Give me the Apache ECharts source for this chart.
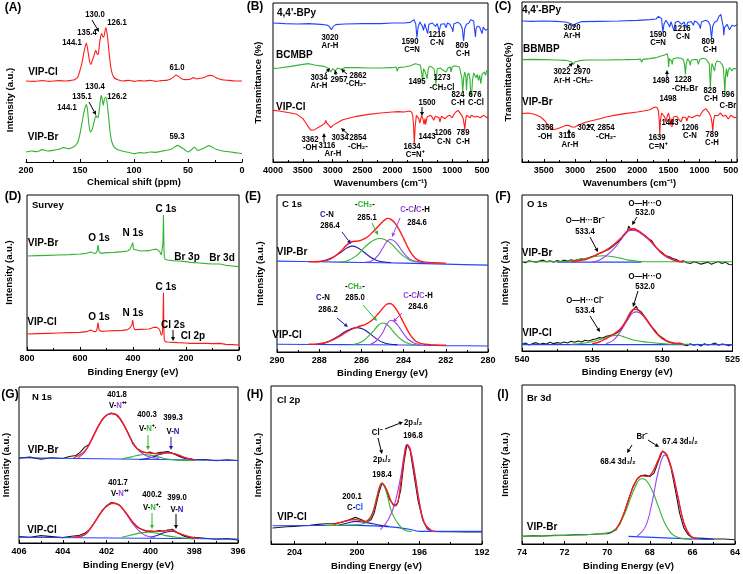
<!DOCTYPE html>
<html><head><meta charset="utf-8">
<script src="https://cdn.jsdelivr.net/npm/echarts@6/dist/echarts.min.js"></script>
<style>html,body{margin:0;padding:0;background:#fff}#c{width:743px;height:574px}</style>
</head><body><div id="c"></div>
<script>
// ---------------- DATA (x value, intensity in a.u.) ----------------
// (A) 13C NMR
const nmrCl = [[200,243],[192,242],[185,244],[178,242],[170,244],[163,243],[158,245],[155,247],[152,255],[150,275],[148,300],[146,335],[144.1,357],[142.5,330],[141,300],[140,293],[138.5,305],[137,320],[135.4,335],[134,323],[133,325],[131.5,365],[130,385],[129,377],[128,375],[126.1,403],[124.5,375],[123,325],[121.5,285],[120,263],[118,252],[115,247],[110,243],[105,245],[100,242],[95,244],[90,243],[85,245],[80,242],[75,244],[70,245],[66,249],[63,256],[61,261],[59,257],[56,250],[52,247],[48,248],[45,253],[42,249],[39,251],[36,253],[33,257],[30,260],[27,259],[24,253],[21,249],[17,246],[12,245],[7,243],[0,243]];
const nmrBr = [[200,30],[195,33],[190,31],[185,37],[180,33],[175,35],[170,38],[165,43],[160,40],[157,44],[155,47],[152,60],[150,85],[148,120],[146,155],[144.1,172],[143,155],[142,120],[140.5,90],[139,95],[137.5,113],[135.1,140],[134,133],[133,135],[131.5,175],[130.4,200],[129.5,190],[128.5,170],[127.5,187],[126.2,195],[125,180],[123.5,135],[122,85],[120.5,60],[118,43],[115,37],[110,32],[105,29],[100,25],[95,28],[90,27],[85,30],[80,29],[75,32],[70,35],[65,39],[62,46],[59.3,50],[57,45],[53,37],[50,30],[47,36],[44,45],[41,35],[38,38],[35,42],[31,49],[28,45],[24,38],[18,33],[13,31],[8,29],[4,27],[0,25]];
// (B) FTIR
const irB_bpy = [[4000,417],[3800,415],[3600,414],[3400,415],[3200,413],[3100,411],[3060,407],[3020,397],[2990,407],[2950,412],[2800,414],[2500,415],[2200,415],[2000,417],[1800,417],[1700,419],[1640,427],[1610,415],[1590,373],[1570,405],[1540,420],[1500,407],[1480,395],[1460,415],[1430,413],[1410,385],[1390,413],[1330,417],[1280,407],[1250,415],[1216,393],[1190,413],[1130,415],[1100,403],[1080,417],[1040,413],[1000,400],[990,390],[970,415],[900,419],[860,413],[830,400],[809,363],[790,400],[760,413],[720,417],[690,427],[670,433],[640,423],[620,390],[610,375],[600,400],[580,407],[560,413],[540,405],[520,395],[500,385],[480,405],[460,403],[440,395],[420,400],[400,400]];
const irB_bcmbp = [[4000,280],[3900,282],[3700,287],[3500,293],[3400,295],[3300,291],[3150,287],[3080,282],[3034,270],[3000,280],[2957,273],[2920,282],[2862,278],[2800,283],[2600,283],[2400,282],[2200,282],[2000,283],[1940,285],[1920,273],[1900,283],[1800,285],[1700,289],[1620,295],[1580,293],[1560,297],[1530,290],[1510,285],[1495,245],[1480,280],[1460,273],[1440,263],[1420,250],[1400,280],[1380,287],[1340,285],[1300,277],[1273,235],[1250,280],[1200,282],[1150,275],[1120,280],[1100,270],[1070,282],[1030,285],[1020,270],[1000,285],[960,289],[920,287],[880,285],[850,280],[835,250],[824,210],[805,255],[790,270],[770,253],[760,215],[745,260],[720,267],[700,245],[690,200],[680,207],[676,195],[660,245],[640,267],[620,260],[600,253],[580,263],[560,245],[540,260],[520,235],[500,263],[480,257],[460,270],[440,260],[420,275],[400,273]];
const irB_vipcl = [[4000,155],[3900,153],[3800,150],[3700,147],[3600,143],[3500,130],[3450,117],[3400,103],[3362,95],[3300,97],[3250,103],[3180,110],[3130,117],[3116,125],[3100,117],[3060,110],[3034,103],[3000,109],[2950,115],[2900,120],[2854,125],[2800,128],[2700,133],[2600,137],[2500,140],[2400,143],[2200,147],[2000,150],[1900,151],[1800,150],[1720,153],[1680,150],[1660,140],[1645,105],[1634,55],[1620,105],[1600,140],[1575,137],[1560,130],[1540,117],[1525,130],[1510,140],[1500,143],[1490,130],[1470,113],[1455,130],[1443,113],[1420,135],[1400,137],[1360,140],[1330,133],[1310,125],[1280,137],[1250,143],[1220,133],[1206,120],[1180,137],[1150,140],[1120,130],[1100,125],[1080,137],[1040,140],[1000,133],[970,143],[940,150],[900,155],[870,150],[840,140],[815,130],[800,113],[789,97],[775,125],[760,140],[730,135],[700,133],[680,140],[650,145],[620,135],[600,129],[580,137],[560,140],[530,133],[500,129],[470,140],[440,137],[420,133],[400,135]];
// (C) FTIR
const irC_bpy = [[3850,423],[3700,422],[3500,423],[3300,422],[3150,420],[3060,415],[3020,405],[2990,415],[2900,421],[2600,422],[2300,423],[2000,425],[1800,427],[1700,429],[1660,437],[1630,440],[1610,430],[1590,390],[1570,415],[1540,425],[1500,413],[1480,405],[1460,421],[1430,419],[1410,393],[1390,419],[1340,422],[1290,413],[1250,420],[1216,403],[1190,419],[1130,421],[1100,410],[1080,423],[1040,419],[1000,409],[990,400],[970,420],[900,425],[860,421],[830,410],[809,370],[790,407],[760,419],[720,423],[690,437],[660,443],[640,440],[620,405],[612,380],[600,403],[580,409],[560,413],[540,407],[520,397],[500,393],[480,410],[460,413],[440,407],[420,411],[400,413]];
const irC_bbmbp = [[3850,307],[3700,308],[3500,307],[3300,306],[3150,305],[3060,301],[3022,293],[3000,300],[2970,299],[2930,304],[2800,306],[2500,306],[2200,307],[2000,308],[1950,309],[1930,299],[1910,308],[1800,310],[1700,313],[1620,318],[1560,321],[1520,325],[1505,310],[1498,285],[1485,310],[1470,315],[1450,303],[1440,293],[1425,310],[1400,315],[1350,313],[1300,311],[1260,307],[1240,290],[1228,263],[1215,295],[1190,310],[1160,300],[1150,290],[1135,305],[1100,307],[1070,305],[1040,307],[1020,293],[1000,307],[950,311],[900,309],[870,307],[845,295],[828,223],[812,280],[800,295],[775,290],[760,273],[745,295],[720,303],[700,305],[670,300],[640,293],[620,285],[605,245],[596,203],[585,255],[570,280],[555,255],[540,275],[520,283],[500,277],[480,273],[460,280],[440,277],[400,280]];
const irC_vipbr = [[3850,145],[3750,147],[3650,143],[3550,135],[3480,123],[3420,107],[3358,97],[3300,99],[3250,102],[3180,107],[3140,110],[3116,115],[3090,109],[3050,105],[3027,99],[3000,105],[2950,110],[2900,114],[2854,118],[2800,121],[2700,125],[2600,130],[2500,135],[2400,139],[2200,145],[2000,150],[1900,153],[1800,157],[1720,165],[1680,163],[1660,153],[1648,125],[1639,83],[1628,125],[1610,147],[1580,143],[1560,135],[1540,120],[1520,137],[1498,147],[1485,135],[1470,110],[1455,130],[1443,105],[1420,135],[1400,140],[1370,137],[1330,127],[1300,120],[1270,135],[1240,140],[1220,133],[1206,123],[1180,137],[1150,140],[1120,133],[1100,127],[1080,137],[1040,140],[1000,137],[970,147],[940,155],[900,160],[870,155],[840,145],[815,133],[800,115],[789,93],[775,125],[760,139],[730,137],[700,140],[670,147],[650,145],[620,137],[600,133],[580,140],[560,135],[540,129],[520,133],[500,140],[470,135],[440,133],[420,137],[400,135]];
// (D) XPS survey
const survBr = [[800,282],[760,283],[720,284],[680,285],[640,286],[600,288],[575,290],[560,294],[550,291],[540,290],[535,298],[532,315],[528,294],[520,290],[500,292],[470,293],[440,295],[420,297],[410,304],[404,310],[401,322],[398,302],[394,296],[370,297],[340,298],[320,302],[310,302],[300,296],[293,285],[289,290],[287,320],[285,405],[283.5,320],[282,280],[279,272],[270,270],[250,268],[230,267],[200,265],[185,263],[182,268],[178,263],[150,261],[120,259],[100,258],[72,258],[69,262],[66,257],[50,254],[25,252],[0,250]];
const survCl = [[800,48],[760,49],[720,50],[680,51],[640,52],[600,53],[575,55],[560,60],[550,56],[540,55],[535,65],[532,82],[528,60],[520,56],[500,57],[470,58],[440,59],[420,61],[410,68],[404,75],[401,90],[398,70],[394,61],[370,62],[340,63],[320,68],[310,68],[300,62],[293,44],[289,52],[287,80],[285,172],[283.5,60],[282,32],[279,25],[270,24],[250,23],[230,22],[200,21],[185,20],[182,25],[178,20],[150,20],[120,20],[100,19],[72,20],[69,24],[66,19],[50,17],[25,16],[0,15]];
// (E) C 1s
const c1sBr_env = [[288.5,270],[288,271],[287.6,275],[287.3,285],[287,300],[286.7,320],[286.45,330],[286.2,332],[286,335],[285.7,345],[285.4,363],[285.1,383],[284.9,395],[284.75,400],[284.6,397],[284.4,385],[284.2,365],[284,340],[283.8,313],[283.6,292],[283.4,278],[283.2,272],[283,269],[282.5,267],[282,266]];
const c1sBr_cn = [[288.2,270],[287.8,273],[287.4,282],[287,297],[286.7,311],[286.45,317],[286.2,313],[285.9,300],[285.6,285],[285.3,275],[285,270],[284.6,268]];
const c1sBr_ch2 = [[287,269],[286.6,275],[286.2,290],[285.9,310],[285.6,327],[285.4,335],[285.15,340],[284.9,337],[284.6,325],[284.3,305],[284,287],[283.7,275],[283.4,270],[283,268]];
const c1sBr_cc = [[285.8,269],[285.5,273],[285.2,290],[285,310],[284.8,330],[284.65,337],[284.5,335],[284.3,323],[284.1,305],[283.9,289],[283.7,278],[283.4,271],[283,268]];
const c1sBr_base = [[290,272],[288,270],[286,268],[284,266],[282,263],[280,260]];
const c1sCl_env = [[288.5,23],[288,25],[287.6,30],[287.3,38],[287,48],[286.7,60],[286.4,70],[286.1,77],[285.8,83],[285.5,95],[285.2,115],[285,130],[284.8,143],[284.65,145],[284.5,140],[284.3,123],[284.1,100],[283.9,75],[283.7,53],[283.5,37],[283.3,28],[283,23],[282.5,21],[282,20]];
const c1sCl_cn = [[287.9,23],[287.5,33],[287.1,47],[286.8,60],[286.5,69],[286.2,73],[285.9,68],[285.6,55],[285.3,40],[285,29],[284.7,24],[284.3,22]];
const c1sCl_ch2 = [[286.4,22],[286,30],[285.7,45],[285.4,65],[285.2,80],[285,87],[284.8,83],[284.6,70],[284.3,48],[284,32],[283.7,24],[283.4,22]];
const c1sCl_cc = [[285.6,22],[285.3,33],[285,57],[284.8,83],[284.6,95],[284.4,89],[284.2,73],[284,55],[283.8,39],[283.5,27],[283.2,22]];
const c1sCl_base = [[290,23],[287,22],[284,21],[282,19],[280,18]];
// (F) O 1s
const o1sBr_raw = [[540,267],[539.75,264],[539.5,270],[539.25,268],[539,266],[538.75,269],[538.5,272],[538.25,267],[538,270],[537.75,266],[537.5,271],[537.25,268],[537,272],[536.75,269],[536.5,273],[536.25,270],[536,274],[535.75,276],[535.5,273],[535.25,279],[535,283],[534.75,286],[534.5,292],[534.25,296],[534,301],[533.75,306],[533.5,314],[533.25,324],[533,332],[532.75,346],[532.5,357],[532.4,374],[532.25,364],[532,367],[531.75,360],[531.5,352],[531.25,345],[531,336],[530.75,330],[530.5,312],[530.25,302],[530,294],[529.75,285],[529.5,282],[529.25,277],[529,274],[528.75,267],[528.5,270],[528.25,264],[528,262],[527.75,267],[527.5,264],[527.25,260],[527,263],[526.75,266],[526.5,260],[526.25,264],[526,268],[525.75,262],[525.5,266],[525.25,259],[525,258]];
const o1sBr_env = [[536.5,267],[535.5,274],[535,282],[534.5,292],[534,302],[533.5,317],[533,336],[532.7,350],[532.4,363],[532.1,366],[531.8,362],[531.5,354],[531,337],[530.5,314],[530,292],[529.5,279],[529,270],[528.5,267]];
const o1sBr_oho = [[535,267],[534.5,272],[534,285],[533.5,304],[533,330],[532.6,352],[532.3,361],[532,361],[531.6,354],[531,334],[530.5,312],[530,290],[529.5,277],[529,269],[528.5,266]];
const o1sBr_ohx = [[540,267],[537.5,267],[536.5,270],[535.5,277],[534.8,283],[534.2,285],[533.6,283],[533,278],[532.4,272],[531.6,268],[530.5,267],[525,267]];
const o1sBr_base = [[537.5,266],[531.5,266]];
const o1sCl_raw = [[540,20],[539.75,24],[539.5,18],[539.25,22],[539,25],[538.75,20],[538.5,23],[538.25,21],[538,26],[537.75,22],[537.5,25],[537.25,23],[537,27],[536.75,24],[536.5,29],[536.25,26],[536,30],[535.75,27],[535.5,32],[535.25,30],[535,34],[534.75,36],[534.5,40],[534.25,39],[534,44],[533.75,46],[533.5,49],[533.25,54],[533,62],[532.75,77],[532.5,92],[532.25,114],[532,127],[531.85,134],[531.75,124],[531.5,117],[531.25,102],[531,87],[530.75,72],[530.5,60],[530.25,47],[530,40],[529.75,32],[529.5,27],[529.25,24],[529,21],[528.75,24],[528.5,19],[528.25,16],[528,22],[527.75,17],[527.5,20],[527.25,15],[527,22],[526.75,18],[526.5,20],[526.25,24],[526,17],[525.75,21],[525.5,19],[525.25,16],[525,20]];
const o1sCl_env = [[535,22],[534.5,27],[534,37],[533.5,50],[533,66],[532.6,90],[532.3,114],[532,125],[531.8,124],[531.5,114],[531,87],[530.5,57],[530,37],[529.5,27],[529,23],[528.5,21]];
const o1sCl_oho = [[534,22],[533.5,32],[533,57],[532.5,92],[532.1,114],[531.8,117],[531.4,107],[531,84],[530.5,57],[530,37],[529.5,26],[529,22]];
const o1sCl_ohx = [[536.5,20],[535.5,24],[534.8,30],[534.2,37],[533.6,45],[533.2,47],[532.7,42],[532,32],[531,26],[530,22],[529,20],[528,20]];
const o1sCl_base = [[540,19],[525,19]];
// (G) N 1s
const n1sBr_raw = [[406,254],[405.5,257],[405,251],[404.5,255],[404,253],[403.7,259],[403.4,262],[403.2,272],[403,287],[402.8,295],[402.6,322],[402.4,347],[402.2,369],[402,383],[401.8,389],[401.6,386],[401.4,372],[401.2,352],[401,327],[400.8,297],[400.6,282],[400.4,273],[400.2,270],[400,272],[399.8,267],[399.6,271],[399.4,272],[399.2,274],[399,269],[398.8,263],[398.6,257],[398.4,252],[398.2,253],[398,249],[397.5,250],[397,246],[396.5,249],[396,247]];
const n1sBr_env = [[403.5,255],[403,275],[402.7,307],[402.4,347],[402.1,377],[401.8,387],[401.5,382],[401.2,352],[400.9,312],[400.6,282],[400.3,272],[400,269],[399.6,267],[399.2,270],[398.8,265],[398.4,255],[398,249]];
const n1sBr_npp = [[403.3,255],[403,272],[402.7,307],[402.4,347],[402.1,377],[401.8,387],[401.5,382],[401.2,352],[400.9,312],[400.6,282],[400.3,265],[400,257],[399.6,253]];
const n1sBr_np = [[401.3,252],[400.9,257],[400.6,262],[400.3,265],[400,263],[399.6,257],[399.2,251],[398.5,247],[398,247]];
const n1sBr_n = [[400.5,249],[400,255],[399.6,265],[399.2,270],[398.8,265],[398.4,255],[398,249]];
const n1sBr_base = [[406,255],[396,247]];
const n1sCl_raw = [[406,19],[405.5,17],[405,22],[404.5,19],[404,16],[403.6,20],[403.3,22],[403,29],[402.8,39],[402.6,57],[402.4,77],[402.2,97],[402,112],[401.8,121],[401.6,119],[401.4,113],[401.2,97],[401,79],[400.8,62],[400.6,47],[400.4,41],[400.2,35],[400,36],[399.8,34],[399.6,37],[399.4,35],[399.2,39],[399,41],[398.8,32],[398.6,25],[398.4,19],[398.2,16],[398,17],[397.5,14],[397,11],[396.5,13],[396,9]];
const n1sCl_env = [[403.5,17],[403,25],[402.7,47],[402.4,77],[402.1,104],[401.7,119],[401.4,112],[401.1,89],[400.8,62],[400.5,44],[400.2,37],[399.9,35],[399.5,35],[399.1,39],[398.8,32],[398.5,24],[398.1,17],[397.8,14]];
const n1sCl_npp = [[403.5,17],[403,25],[402.7,47],[402.4,77],[402.1,104],[401.7,119],[401.4,112],[401.1,87],[400.8,57],[400.5,35],[400.2,22],[399.8,17]];
const n1sCl_np = [[401.3,17],[400.8,25],[400.4,31],[400.1,32],[399.7,29],[399.3,22],[398.8,17],[398,12]];
const n1sCl_n = [[400,17],[399.6,25],[399.3,32],[399,35],[398.7,29],[398.4,21],[398,15]];
const n1sCl_base = [[406,17],[396,12]];
// (H) Cl 2p
const cl2p_raw = [[205.4,48],[204.5,52],[204,53],[203.5,55],[203,56],[202.5,59],[202,61],[201.5,61],[201,65],[200.5,73],[200.1,80],[199.7,73],[199.4,65],[199.1,73],[198.9,93],[198.6,153],[198.4,183],[198.2,173],[197.9,133],[197.6,115],[197.4,123],[197.2,163],[197,243],[196.8,300],[196.6,283],[196.4,223],[196.1,133],[195.8,73],[195.5,45],[195.2,38],[194.5,37],[194,37],[193,36],[192,36]];
const cl2p_env = [[201.5,58],[200.8,68],[200.1,73],[199.5,68],[199.1,83],[198.8,123],[198.4,183],[198.1,163],[197.7,118],[197.5,115],[197.2,183],[197,253],[196.8,298],[196.6,283],[196.3,208],[196,123],[195.7,65],[195.3,43],[195,38]];
const cl2p_p12 = [[202,56],[200,58],[199.3,68],[199,93],[198.7,148],[198.4,183],[198.1,153],[197.8,98],[197.4,63],[197,43],[196.5,38]];
const cl2p_p32 = [[198.5,43],[198,73],[197.6,118],[197.2,203],[197,263],[196.8,300],[196.6,288],[196.3,213],[196,123],[195.7,63],[195.3,41],[195,37]];
const cl2p_ccl = [[201.2,56],[200.6,63],[200.1,68],[199.5,65],[199,61],[198.5,56],[198,53]];
const cl2p_base = [[205.4,55],[200,56],[197.5,50],[196.5,43],[196,38],[192,38]];
// (I) Br 3d
const br3d_raw = [[74,23],[73.5,25],[73,24],[72.5,26],[72,26],[71.5,28],[71,28],[70.5,30],[70,31],[69.8,35],[69.6,43],[69.4,61],[69.2,93],[69,133],[68.8,171],[68.6,195],[68.4,206],[68.2,207],[68,203],[67.8,213],[67.6,248],[67.4,280],[67.2,268],[67,228],[66.8,163],[66.6,93],[66.4,48],[66.2,28],[66,19],[65.5,17],[65,15],[64.5,15],[64,13]];
const br3d_env = [[69.6,41],[69.3,78],[69,133],[68.7,183],[68.4,205],[68.1,203],[67.9,213],[67.6,253],[67.4,278],[67.2,268],[67,231],[66.7,148],[66.4,63],[66.1,25],[65.8,16]];
const br3d_d32 = [[74,23],[72,26],[71,28],[70.3,31],[69.8,37],[69.5,53],[69.2,88],[68.9,138],[68.6,183],[68.4,196],[68.2,193],[67.9,163],[67.6,113],[67.3,63],[67,33],[66.7,20],[66.3,15],[66,13]];
const br3d_d52 = [[68.6,23],[68.2,53],[67.9,123],[67.6,218],[67.3,268],[67,233],[66.7,148],[66.4,63],[66.1,25],[65.8,15]];
const br3d_base = [[69,23],[66,15],[65,14]];

// axis ranges / ticks: [min, max, tick step]
const axA = [0, 200, 50], axB = [400, 4000, 500], axC = [400, 3850, 500];
const axD = [0, 800, 200], axE = [280, 290, 2], axF = [525, 540, 5];
const axG = [396, 406, 2], axH = [192, 205.5, 4], axI = [64, 74, 2];

// ---------------- STYLE / LAYOUT ----------------
const FONT = '"Liberation Sans", Arial, sans-serif';
const RED = '#ff1a1a', GREEN = '#33b333', BLUE = '#2244ff', NAVY = '#1c1caa', PURPLE = '#a040f0', BLACK = '#1a1a1a';

const panels = [
  {ax: axA, box: [26, 3, 216, 159], ymax: 477, frame: false, xname: 'Chemical shift (ppm)', xgap: 15, yname: '', ygap: 0},
  {ax: axB, box: [273, 3, 215, 159], ymax: 477, frame: true, xname: 'Wavenumbers (cm⁻¹)', xgap: 16, yname: 'Transmittance (%)', ygap: 10},
  {ax: axC, box: [522, 2, 215, 160], ymax: 480, frame: true, xname: 'Wavenumbers (cm⁻¹)', xgap: 16, yname: 'Transmittance(%)', ygap: 9},
  {ax: axD, box: [27, 195, 212, 155], ymax: 465, frame: true, xname: 'Binding Energy (eV)', xgap: 17, yname: 'Intensity (a.u.)', ygap: 13},
  {ax: axE, box: [277, 195, 211, 157], ymax: 470, frame: true, xname: 'Binding Energy (eV)', xgap: 16, yname: 'Intensity (a.u.)', ygap: 12},
  {ax: axF, box: [522, 195, 211, 156], ymax: 467, frame: true, xname: 'Binding Energy (eV)', xgap: 16, yname: 'Intensity (a.u.)', ygap: 12},
  {ax: axG, box: [19, 387, 219, 156], ymax: 467, frame: true, xname: 'Binding Energy (eV)', xgap: 17, yname: 'Intensity (a.u.)', ygap: 8},
  {ax: axH, box: [271, 386, 211, 158], ymax: 475, frame: true, xname: 'Binding Energy (eV)', xgap: 17, yname: 'Intensity (a.u.)', ygap: 8},
  {ax: axI, box: [522, 385, 213, 159], ymax: 478, frame: true, xname: 'Binding Energy (eV)', xgap: 17, yname: 'Intensity (a.u.)', ygap: 12}
];

const grid = [], xAxis = [], yAxis = [];
panels.forEach((p, i) => {
  const [mn, mx, step] = p.ax;
  grid.push({left: p.box[0], top: p.box[1], width: p.box[2], height: p.box[3], show: p.frame, borderColor: '#000', borderWidth: 1, backgroundColor: 'transparent'});
  const aligned = (mn % step === 0);
  xAxis.push({
    gridIndex: i, type: 'value', inverse: true, min: mn, max: mx,
    interval: aligned ? step : undefined, splitNumber: aligned ? undefined : 7,
    axisLine: {show: true, onZero: false, lineStyle: {color: '#000', width: 1}},
    axisTick: {show: true, inside: true, length: 3, lineStyle: {color: '#000'}},
    minorTick: {show: true, splitNumber: 2, length: 2, lineStyle: {color: '#000'}},
    splitLine: {show: false},
    axisLabel: {fontSize: 9, fontWeight: 'bold', fontFamily: FONT, color: '#000', margin: 4,
      formatter: v => (Math.abs(v / step - Math.round(v / step)) < 1e-6 ? String(v) : '')},
    name: p.xname, nameLocation: 'middle', nameGap: p.xgap,
    nameTextStyle: {fontSize: 9.5, fontWeight: 'bold', fontFamily: FONT, color: '#000'}
  });
  yAxis.push({
    gridIndex: i, type: 'value', min: 0, max: p.ymax,
    axisLine: {show: false}, axisTick: {show: false}, axisLabel: {show: false}, splitLine: {show: false},
    name: p.yname, nameLocation: 'middle', nameGap: p.ygap, nameRotate: 90,
    nameTextStyle: {fontSize: 9.5, fontWeight: 'bold', fontFamily: FONT, color: '#000'}
  });
});

const series = [];
function S(g, data, color, smooth, w) {
  series.push({type: 'line', xAxisIndex: g, yAxisIndex: g, data: data, showSymbol: false, symbol: 'none',
    smooth: smooth || false, silent: true, animation: false,
    lineStyle: {color: color, width: w || 1.1}});
}
// A
S(0, nmrCl, RED, 0.2); S(0, nmrBr, GREEN, 0.2);
// B
S(1, irB_bpy, BLUE); S(1, irB_bcmbp, GREEN); S(1, irB_vipcl, RED);
// C
S(2, irC_bpy, BLUE); S(2, irC_bbmbp, GREEN); S(2, irC_vipbr, RED);
// D
S(3, survBr, GREEN); S(3, survCl, RED);
// E
S(4, c1sBr_base, BLUE, 0.3); S(4, c1sBr_cn, NAVY, 0.4); S(4, c1sBr_ch2, GREEN, 0.4); S(4, c1sBr_cc, PURPLE, 0.4); S(4, c1sBr_env, RED, 0.4, 1.4);
S(4, c1sCl_base, BLUE, 0.3); S(4, c1sCl_cn, NAVY, 0.4); S(4, c1sCl_ch2, GREEN, 0.4); S(4, c1sCl_cc, PURPLE, 0.4); S(4, c1sCl_env, RED, 0.4, 1.4);
// F
S(5, o1sBr_raw, BLACK); S(5, o1sBr_base, BLUE); S(5, o1sBr_ohx, GREEN, 0.4); S(5, o1sBr_oho, PURPLE, 0.4); S(5, o1sBr_env, RED, 0.4, 1.4);
S(5, o1sCl_raw, BLACK); S(5, o1sCl_base, BLUE); S(5, o1sCl_ohx, GREEN, 0.4); S(5, o1sCl_oho, PURPLE, 0.4); S(5, o1sCl_env, RED, 0.4, 1.4);
// G
S(6, n1sBr_raw, BLACK); S(6, n1sBr_base, BLUE); S(6, n1sBr_np, GREEN, 0.4); S(6, n1sBr_n, NAVY, 0.4); S(6, n1sBr_npp, PURPLE, 0.4); S(6, n1sBr_env, RED, 0.4, 1.3);
S(6, n1sCl_raw, BLACK); S(6, n1sCl_base, BLUE); S(6, n1sCl_np, GREEN, 0.4); S(6, n1sCl_n, NAVY, 0.4); S(6, n1sCl_npp, PURPLE, 0.4); S(6, n1sCl_env, RED, 0.4, 1.3);
// H
S(7, cl2p_raw, BLACK); S(7, cl2p_base, BLUE, 0.3); S(7, cl2p_ccl, NAVY, 0.4); S(7, cl2p_p12, GREEN, 0.4); S(7, cl2p_p32, PURPLE, 0.4); S(7, cl2p_env, RED, 0.4, 1.3);
// I
S(8, br3d_raw, BLACK); S(8, br3d_base, BLUE, 0.3); S(8, br3d_d32, GREEN, 0.4); S(8, br3d_d52, PURPLE, 0.4); S(8, br3d_env, RED, 0.4, 1.3);

// ---------------- TEXT / ANNOTATIONS ----------------
function tok(c, s) { return {fill: c, fontSize: s, fontWeight: 'bold', fontFamily: FONT}; }
const RICH = {k: tok('#000', 9), g: tok(GREEN, 9), b: tok(NAVY, 9), bl: tok(BLUE, 9), p: tok(PURPLE, 9)};
const graphic = [];
function T(x, y, text, size, opt) {
  opt = opt || {};
  size = size || 9;
  const sx = opt.sx || (size <= 9 ? 0.86 : 1);
  graphic.push({type: 'text', x: x, y: y, z: 100, silent: true, rotation: opt.rot || 0,
    scaleX: sx, scaleY: 1,
    style: {text: text, fontSize: size, fontWeight: 'bold', fontFamily: FONT, fill: opt.color || '#000',
      align: opt.align || 'center', textAlign: opt.align || 'center', verticalAlign: 'middle', textVerticalAlign: 'middle',
      rich: RICH}});
}
function A(x1, y1, x2, y2, color) {
  color = color || '#000';
  const a = Math.atan2(y2 - y1, x2 - x1), L = 4, W = 2;
  const hx = x2 - L * Math.cos(a), hy = y2 - L * Math.sin(a);
  graphic.push({type: 'line', z: 90, silent: true, shape: {x1: x1, y1: y1, x2: hx, y2: hy}, style: {stroke: color, lineWidth: 1}});
  graphic.push({type: 'polygon', z: 90, silent: true, shape: {points: [[x2, y2], [hx + W * Math.sin(a), hy - W * Math.cos(a)], [hx - W * Math.sin(a), hy + W * Math.cos(a)]]}, style: {fill: color}});
}
// panel letters
[['(A)', 13, 8], ['(B)', 255, 7], ['(C)', 503, 7], ['(D)', 13, 197], ['(E)', 253, 197], ['(F)', 503, 197], ['(G)', 10, 395], ['(H)', 255, 395], ['(I)', 503, 395]]
  .forEach(l => T(l[1], l[2], l[0], 12));
// A
T(10, 100, 'Intensity (a.u.)', 9.5, {rot: Math.PI / 2, sx: 1});
T(95, 15, '130.0'); T(117, 23, '126.1'); T(87, 33, '135.4'); T(72, 43, '144.1');
T(43, 72, 'VIP-Cl', 10); T(177, 68, '61.0');
T(95, 87, '130.4'); T(82, 97, '135.1'); T(117, 97, '126.2'); T(67, 108, '144.1');
T(43, 137, 'VIP-Br', 10); T(177, 137, '59.3');
A(92, 20, 99, 32); A(89, 102, 96, 115);
// B
T(277, 13, "4,4'-BPy", 10, {align: 'left'});
T(330, 38, '3020'); T(330, 46, 'Ar-H'); T(410, 42, '1590'); T(412, 50, 'C=N');
T(437, 35, '1216'); T(437, 43, 'C-N'); T(462, 46, '809'); T(463, 54, 'C-H');
T(276, 55, 'BCMBP', 10, {align: 'left'});
T(319, 78, '3034'); T(319, 86, 'Ar-H'); T(339, 80, '2957'); T(358, 76, '2862'); T(356, 84, '-CH₂-');
T(417, 82, '1495'); T(442, 78, '1273'); T(442, 88, '-CH₂Cl');
T(458, 95, '824'); T(458, 103, 'C-H'); T(475, 95, '676'); T(476, 103, 'C-Cl');
T(276, 107, 'VIP-Cl', 10, {align: 'left'});
T(427, 103, '1500');
T(310, 140, '3362'); T(310, 148, '-OH'); T(340, 138, '3034'); T(327, 146, '3116'); T(333, 154, 'Ar-H');
T(358, 138, '2854'); T(358, 147, '-CH₂-');
T(427, 137, '1443'); T(443, 133, '1206'); T(444, 142, 'C-N');
T(412, 147, '1634'); T(415, 155, 'C=N⁺'); T(463, 133, '789'); T(463, 142, 'C-H');
A(325, 74, 330, 68); A(336, 75, 335, 70); A(347, 74, 341, 69);
A(422, 107, 422, 116); A(324, 142, 324, 133); A(349, 135, 341, 128);
// C
T(522, 10, "4,4'-BPy", 10, {align: 'left'});
T(572, 28, '3020'); T(572, 36, 'Ar-H'); T(658, 35, '1590'); T(658, 43, 'C=N');
T(682, 29, '1216'); T(683, 37, 'C-N'); T(708, 42, '809'); T(710, 50, 'C-H');
T(523, 49, 'BBMBP', 10, {align: 'left'});
T(562, 72, '3022'); T(582, 72, '2970'); T(562, 81, 'Ar-H'); T(583, 81, '-CH₂-');
T(661, 81, '1498'); T(683, 80, '1228'); T(685, 89, '-CH₂Br');
T(710, 91, '828'); T(711, 99, 'C-H'); T(728, 95, '596'); T(728, 106, 'C-Br');
T(522, 102, 'VIP-Br', 10, {align: 'left'});
T(668, 99, '1498');
T(545, 128, '3358'); T(545, 137, '-OH'); T(567, 136, '3116'); T(570, 145, 'Ar-H');
T(586, 128, '3027'); T(606, 128, '2854'); T(606, 137, '-CH₂-');
T(670, 123, '1443'); T(690, 128, '1206'); T(690, 136, 'C-N');
T(657, 138, '1639'); T(658, 147, 'C=N⁺'); T(712, 135, '789'); T(712, 143, 'C-H');
A(567, 68, 573, 63); A(579, 68, 577, 64); A(667, 77, 667, 70); A(569, 137, 569, 129); A(595, 131, 587, 124);
// D
T(32, 205, 'Survey', 9.5, {align: 'left'});
T(166, 209, 'C 1s', 10); T(99, 238, 'O 1s', 10); T(133, 233, 'N 1s', 10); T(43, 243, 'VIP-Br', 10);
T(187, 257, 'Br 3p', 10); T(222, 258, 'Br 3d', 10);
T(166, 287, 'C 1s', 10); T(99, 317, 'O 1s', 10); T(133, 313, 'N 1s', 10); T(42, 322, 'VIP-Cl', 10);
T(173, 325, 'Cl 2s', 10); T(193, 336, 'Cl 2p', 10);
A(173, 330, 173, 341);
// E
T(282, 204, 'C 1s', 9.5, {align: 'left'});
T(365, 205, '{k|-}{g|CH₂}{k|-}'); T(367, 218, '285.1');
T(327, 215, '{b|C}{k|-N}'); T(330, 226, '286.4');
T(415, 210, '{p|C}{k|-}{p|C}{k|/}{p|C}{k|-H}'); T(417, 223, '284.6');
T(292, 252, 'VIP-Br', 10);
T(355, 287, '{k|-}{g|CH₂}{k|-}'); T(355, 298, '285.0');
T(323, 298, '{b|C}{k|-N}'); T(328, 310, '286.2');
T(418, 296, '{p|C}{k|-}{p|C}{k|/}{p|C}{k|-H}'); T(418, 307, '284.6');
T(287, 335, 'VIP-Cl', 10);
A(342, 232, 351, 244, NAVY); A(372, 223, 378, 235, GREEN); A(400, 218, 392, 237, PURPLE);
A(337, 318, 348, 327, NAVY); A(363, 305, 377, 321, GREEN); A(402, 313, 393, 322, PURPLE);
// F
T(527, 204, 'O 1s', 9.5, {align: 'left'});
T(645, 204, 'O—H···O'); T(645, 213, '532.0');
T(585, 221, 'O—H···Br⁻'); T(585, 232, '533.4');
T(537, 253, 'VIP-Br', 10);
T(645, 277, 'O—H···O'); T(645, 287, '532.0');
T(585, 301, 'O—H···Cl⁻'); T(585, 311, '533.4');
T(537, 333, 'VIP-Cl', 10);
A(637, 217, 632, 225); A(590, 237, 598, 252); A(638, 291, 633, 307); A(590, 316, 600, 332);
// G
T(32, 397, 'N 1s', 9.5, {align: 'left'});
T(117, 395, '401.8'); T(118, 406, '{k|V-}{p|N}{k|⁺⁺}');
T(147, 415, '400.3'); T(148, 429, '{k|V-}{g|N}{k|⁺·}');
T(173, 418, '399.3'); T(173, 432, '{k|V-}{b|N}');
T(43, 450, 'VIP-Br', 10);
T(118, 483, '401.7'); T(120, 494, '{k|V-}{p|N}{k|⁺⁺}');
T(152, 495, '400.2'); T(152, 508, '{k|V-}{g|N}{k|⁺·}');
T(177, 498, '399.0'); T(177, 510, '{k|V-}{b|N}');
T(42, 530, 'VIP-Cl', 10);
A(148, 435, 148, 450, GREEN); A(171, 437, 171, 450, NAVY); A(152, 513, 152, 529, GREEN); A(176, 514, 176, 529);
// H
T(277, 400, 'Cl 2p', 9.5, {align: 'left'});
T(413, 423, '2p₃/₂'); T(413, 436, '196.8'); T(377, 433, 'Cl⁻');
T(382, 460, '2p₁/₂'); T(382, 475, '198.4');
T(352, 497, '200.1'); T(355, 508, '{k|C-}{bl|Cl}');
T(292, 517, 'VIP-Cl', 10);
A(385, 429, 403, 422); A(378, 438, 382, 454);
// I
T(527, 398, 'Br 3d', 9.5, {align: 'left'});
T(642, 437, 'Br⁻'); T(680, 442, '67.4 3d₅/₂'); T(618, 462, '68.4 3d₃/₂');
T(542, 527, 'VIP-Br', 10);
A(632, 445, 627, 453); A(648, 440, 659, 447);

const chart = echarts.init(document.getElementById('c'), null, {renderer: 'canvas'});
chart.setOption({animation: false, backgroundColor: '#fff', grid, xAxis, yAxis, series, graphic});
</script></body></html>
